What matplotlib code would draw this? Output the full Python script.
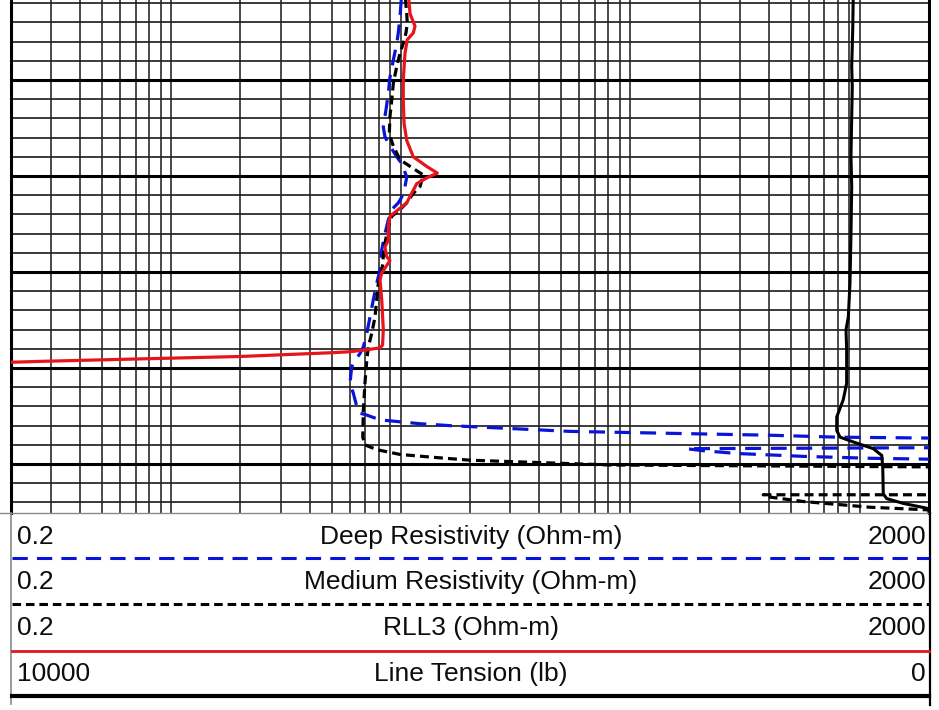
import matplotlib
matplotlib.use("Agg")
import matplotlib.pyplot as plt
from matplotlib.lines import Line2D
import numpy as np

plt.rcParams["font.family"] = ["Liberation Sans", "DejaVu Sans"]

# Deep resistivity (ohm-m) vs depth (ft)
deep_depth = [1521.0, 1523.4, 1525.1, 1526.2, 1527.9, 1529.7, 1531.4, 1533.1, 1534.9, 1535.9,
              1536.6, 1538.0, 1538.7, 1540.1, 1541.1, 1542.2, 1542.8, 1543.5, 1544.6, 1546.0,
              1547.7, 1549.8, 1551.2, 1552.9, 1554.7, 1556.4, 1557.8, 1558.5, 1559.2, 1559.9,
              1561.6, 1562.6, 1564.0, 1564.7, 1564.9, 1565.4, 1565.6, 1565.8, 1566.0, 1566.1,
              1566.6, 1566.8, 1567.0, 1567.2, 1567.3, 1567.7, 1568.1, 1568.3, 1568.4, 1568.6,
              1568.9, 1569.2, 1569.4, 1569.5, 1570.0, 1576.0]
deep_res = [10.08, 9.91, 9.74, 9.59, 9.27, 8.96, 8.81, 8.61, 8.38, 8.52,
            8.81, 9.59, 10.08, 10.60, 10.42, 10.08, 9.74, 9.12, 8.81, 8.52,
            8.25, 8.11, 7.84, 7.58, 7.33, 7.10, 6.86, 6.63, 6.31, 6.10,
            6.00, 6.20, 6.42, 6.63, 7.10, 8.11, 9.91, 12.11, 16.37, 20.0,
            54.6, 148.7, 405.8, 792, 2100, 4000, 4000, 2000, 176, 205,
            290, 565, 1107, 2100, 4000, 4000]

# Medium resistivity (ohm-m)
med_depth = [1521.0, 1523.1, 1524.1, 1525.1, 1526.2, 1527.2, 1528.6, 1530.3, 1532.1, 1533.8,
             1535.6, 1536.9, 1538.3, 1539.0, 1539.9, 1541.1, 1541.8, 1542.8, 1543.5, 1544.2,
             1545.3, 1547.0, 1548.4, 1550.1, 1551.2, 1554.7, 1556.4, 1557.8, 1559.2, 1561.6,
             1564.4, 1567.2, 1568.0, 1568.5, 1569.0, 1569.3, 1569.6, 1570.1, 1570.3, 1570.6,
             1572.7, 1573.2, 1573.2, 1573.4, 1573.9, 1574.5, 1574.8, 1576.0]
med_res = [10.42, 10.60, 10.66, 10.52, 10.24, 9.91, 9.59, 9.27, 9.12, 8.96,
           8.90, 9.27, 9.91, 10.96, 12.52, 12.11, 11.32, 10.60, 9.91, 9.12,
           8.81, 8.52, 8.38, 8.25, 7.97, 7.71, 7.46, 7.21, 7.10, 6.97,
           6.86, 6.82, 6.97, 7.84, 9.91, 13.84, 20.0, 81.5, 2100, 4000,
           4000, 2100, 379, 393, 565, 1107, 2100, 4000]

# RLL3 (ohm-m)
rll3_depth = [1521.0, 1523.1, 1524.4, 1525.1, 1525.8, 1527.2, 1530.0, 1532.1, 1534.5, 1536.3,
              1538.0, 1539.0, 1539.7, 1540.2, 1540.8, 1541.8, 1542.8, 1543.5, 1544.2, 1545.3,
              1546.7, 1547.4, 1548.4, 1548.8, 1550.1, 1550.8, 1552.9, 1556.0, 1557.6, 1557.9,
              1558.1, 1558.3, 1558.4, 1558.8, 1559.0, 1559.3, 1559.4]
rll3_res = [10.77, 10.96, 11.52, 11.32, 10.66, 10.42, 10.24, 10.24, 10.32, 10.60,
            11.32, 12.95, 14.41, 12.95, 11.72, 11.14, 10.60, 9.74, 8.96, 8.81,
            8.81, 8.52, 8.67, 8.96, 8.25, 8.11, 8.25, 8.38, 8.32, 8.11,
            7.10, 6.00, 5.06, 1.99, 0.89, 0.276, 0.2]

# Line tension (lb)
tension_depth = [1521.0, 1524.8, 1528.6, 1530.7, 1538.0, 1541.1, 1546.0, 1548.4, 1551.2, 1554.7,
                 1556.0, 1558.1, 1561.6, 1563.3, 1565.1, 1566.5, 1567.2, 1567.7, 1568.4, 1569.1,
                 1570.3, 1573.1, 1573.6, 1574.1, 1574.6, 1574.9, 1576.0]
tension_lb = [825, 831, 842, 836, 850, 842, 850, 855, 861, 879,
              904, 897, 897, 934, 1005, 1005, 969, 825, 607, 515,
              504, 498, 461, 280, 25, 0, 0]

header_rows = [
    ("0.2", "Deep Resistivity (Ohm-m)", "2000"),
    ("0.2", "Medium Resistivity (Ohm-m)", "2000"),
    ("0.2", "RLL3 (Ohm-m)", "2000"),
    ("10000", "Line Tension (lb)", "0"),
]

DEPTH_TOP, DEPTH_BOTTOM = 1521.67, 1575.1
BLUE_DASH = (0, (5, 3))
BLACK_DASH = (0, (2.8, 1.6))

W, H = 939, 710
fig = plt.figure(figsize=(W / 100, H / 100), dpi=100)

# ---- log track -------------------------------------------------------------
ax = fig.add_axes([11 / W, 1 - 513 / H, 918 / W, 513 / H])
ax.set_xscale("log")
ax.set_xlim(0.2, 2000)
ax.set_ylim(DEPTH_BOTTOM, DEPTH_TOP)

grid_vals = [m * 10.0 ** k for k in range(-1, 4) for m in range(1, 10)]
for v in grid_vals:
    if 0.2 < v < 2000:
        ax.axvline(v, color="#333333", lw=1.25, zorder=1)
for d in np.arange(1522, 1576, 2):
    thick = d % 10 == 0
    ax.axhline(d, color="black" if thick else "#222222", lw=2.2 if thick else 1.25, zorder=1)

ax.plot(deep_res, deep_depth, color="#0a14d8", lw=2.3, ls=BLUE_DASH, zorder=3)
ax.plot(med_res, med_depth, color="black", lw=2.3, ls=BLACK_DASH, zorder=3)
ax.plot(rll3_res, rll3_depth, color="#e8141c", lw=2.3, zorder=4)

ax_t = ax.twiny()
ax_t.set_xlim(10000, 0)
ax_t.plot(tension_lb, tension_depth, color="black", lw=2.2, zorder=4)

for a in (ax, ax_t):
    a.set_xticks([])
    a.set_yticks([])
    a.minorticks_off()
    a.tick_params(which="both", length=0, labelbottom=False, labelleft=False, labeltop=False)
    for side in ("top", "bottom"):
        a.spines[side].set_visible(False)
    for side in ("left", "right"):
        a.spines[side].set_linewidth(2.2)
ax_t.spines["left"].set_visible(False)
ax_t.spines["right"].set_visible(False)

# ---- header ----------------------------------------------------------------
hd = fig.add_axes([0, 0, 1, 1], facecolor="none")
hd.set_xlim(0, W)
hd.set_ylim(H, 0)
hd.axis("off")

hd.add_line(Line2D([0, 930], [513, 513], color="#8a8a8a", lw=1.0))
hd.add_line(Line2D([11, 11], [513, 704], color="#8a8a8a", lw=1.2))
hd.add_line(Line2D([930, 930], [513, 705], color="black", lw=1.6))

text_y = [537, 582, 628, 674]
for (lo, title, hi), ty in zip(header_rows, text_y):
    hd.text(17, ty, lo, ha="left", va="center", fontsize=19, color="#0d0d0d")
    hd.text(471, ty, title, ha="center", va="center", fontsize=19, color="#0d0d0d")
    hd.text(926, ty, hi, ha="right", va="center", fontsize=19, color="#0d0d0d")

hd.add_line(Line2D([12, 929], [558, 558], color="#0a14d8", lw=2.2, ls=BLUE_DASH))
hd.add_line(Line2D([12, 929], [604, 604], color="black", lw=2.2, ls=BLACK_DASH))
hd.add_line(Line2D([12, 929], [650.5, 650.5], color="#e8141c", lw=2.0))
hd.add_line(Line2D([12, 929], [696, 696], color="black", lw=3.0))

fig.savefig("out.png", dpi=100)
